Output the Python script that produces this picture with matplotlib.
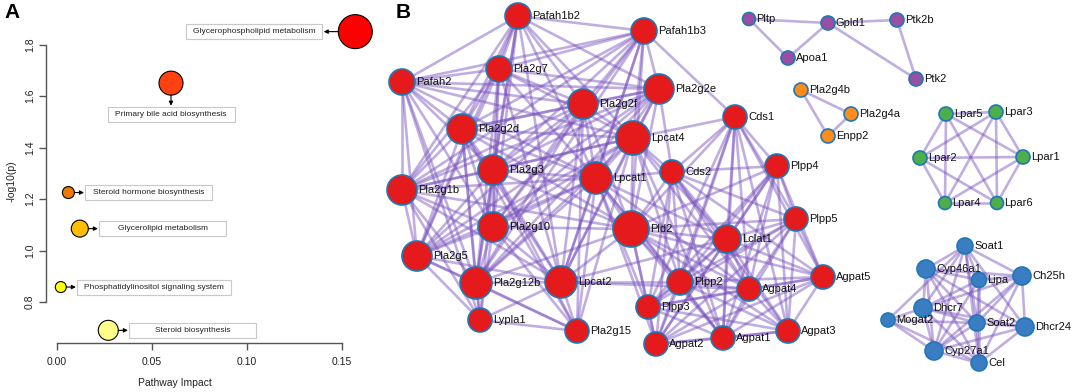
import matplotlib
matplotlib.use("Agg")
import matplotlib.pyplot as plt
from matplotlib.patches import Circle, Rectangle, FancyArrowPatch
from matplotlib.collections import LineCollection
from matplotlib.transforms import IdentityTransform

plt.rcParams["font.family"] = ["Liberation Sans", "DejaVu Sans"]

# ---- Panel A data: pathway analysis ----
pathways = ["Glycerophospholipid metabolism", "Primary bile acid biosynthesis",
            "Steroid hormone biosynthesis", "Glycerolipid metabolism",
            "Phosphatidylinositol signaling system", "Steroid biosynthesis"]
impact = [0.157, 0.060, 0.006, 0.012, 0.002, 0.027]
neg_log_p = [1.85, 1.65, 1.225, 1.085, 0.858, 0.69]
bubble_colors = ["#FF0000", "#FF4210", "#EE7A00", "#FFBE00", "#FFFF10", "#FFFF88"]
bubble_r = [17, 12, 6, 8.5, 5.5, 10]          # radius in px
label_side = ["left", "below", "right", "right", "right", "right"]
x_ticks = [0.00, 0.05, 0.10, 0.15]
y_ticks = [0.8, 1.0, 1.2, 1.4, 1.6, 1.8]

# ---- Panel B data: interaction network ----
groups = {
    "red": ["Pafah1b2", "Pafah1b3", "Pafah2", "Pla2g7", "Pla2g2e", "Pla2g2f", "Pla2g2d",
            "Lpcat4", "Pla2g3", "Lpcat1", "Pla2g1b", "Pla2g10", "Pla2g5", "Pla2g12b",
            "Lpcat2", "Lypla1", "Pla2g15", "Pld2", "Cds1", "Cds2", "Plpp4", "Plpp5",
            "Lclat1", "Plpp2", "Plpp3", "Agpat1", "Agpat2", "Agpat3", "Agpat4", "Agpat5"],
    "purple": ["Pltp", "Gpld1", "Ptk2b", "Apoa1", "Ptk2"],
    "orange": ["Pla2g4b", "Pla2g4a", "Enpp2"],
    "green": ["Lpar5", "Lpar3", "Lpar2", "Lpar1", "Lpar4", "Lpar6"],
    "blue": ["Soat1", "Cyp46a1", "Lipa", "Ch25h", "Dhcr7", "Mogat2", "Soat2",
             "Dhcr24", "Cyp27a1", "Cel"],
}
group_colors = {"red": "#E41A1C", "purple": "#984EA3", "orange": "#FF8C1A",
                "green": "#4DAF4A", "blue": "#3A7DC2"}

links = """
Pafah1b2: Pafah1b3 Pafah2 Pla2g7 Pla2g2e Pla2g2f Pla2g2d Lpcat4 Pla2g3 Lpcat1 Pla2g1b Pla2g10 Pla2g5 Pla2g12b Lpcat2
Pafah1b3: Pafah2 Pla2g7 Pla2g2e Pla2g2f Pla2g2d Lpcat4 Pla2g3 Lpcat1 Pla2g1b Pla2g10 Pla2g12b Lpcat2 Pld2 Cds1
Pafah2: Pla2g7 Pla2g2e Pla2g2f Pla2g2d Lpcat4 Pla2g3 Lpcat1 Pla2g1b Pla2g10 Pla2g5 Pla2g12b Lypla1
Pla2g7: Pla2g2e Pla2g2f Pla2g2d Lpcat4 Pla2g3 Lpcat1 Pla2g1b Pla2g10 Pla2g5 Pla2g12b Lpcat2
Pla2g2e: Pla2g2f Pla2g2d Lpcat4 Pla2g3 Lpcat1 Pla2g1b Pla2g10 Pla2g5 Pla2g12b Lpcat2 Pld2 Cds2
Pla2g2f: Pla2g2d Lpcat4 Pla2g3 Lpcat1 Pla2g1b Pla2g10 Pla2g5 Pla2g12b Lpcat2 Pld2 Pla2g15
Pla2g2d: Lpcat4 Pla2g3 Lpcat1 Pla2g1b Pla2g10 Pla2g5 Pla2g12b Lpcat2 Pld2 Lypla1 Pla2g15
Lpcat4: Pla2g3 Lpcat1 Pla2g1b Pla2g10 Pla2g5 Pla2g12b Lpcat2 Pld2 Cds1 Cds2 Lclat1 Plpp2 Agpat4 Agpat1 Pla2g15
Pla2g3: Lpcat1 Pla2g1b Pla2g10 Pla2g5 Pla2g12b Lpcat2 Pld2 Lypla1 Pla2g15
Lpcat1: Pla2g1b Pla2g10 Pla2g5 Pla2g12b Lpcat2 Pld2 Cds2 Lclat1 Plpp2 Plpp3 Agpat2 Agpat1 Agpat4 Pla2g15
Pla2g1b: Pla2g10 Pla2g5 Pla2g12b Lpcat2 Pld2 Lypla1
Pla2g10: Pla2g5 Pla2g12b Lpcat2 Pld2 Lypla1 Pla2g15
Pla2g5: Pla2g12b Lpcat2 Lypla1 Pla2g15
Pla2g12b: Lpcat2 Lypla1 Pla2g15 Pld2
Lpcat2: Pld2 Pla2g15 Lclat1 Plpp2 Agpat4 Lypla1
Lypla1: Pla2g15
Pld2: Cds1 Cds2 Plpp4 Plpp5 Lclat1 Plpp2 Plpp3 Agpat2 Agpat1 Agpat4 Agpat3 Agpat5
Cds1: Cds2 Plpp4 Plpp5 Lclat1 Plpp2 Plpp3 Agpat2 Agpat1 Agpat4 Agpat3 Agpat5
Cds2: Plpp4 Plpp5 Lclat1 Plpp2 Plpp3 Agpat2 Agpat1 Agpat4 Agpat3 Agpat5
Plpp4: Plpp5 Lclat1 Plpp2 Plpp3 Agpat2 Agpat1 Agpat4 Agpat3 Agpat5
Plpp5: Lclat1 Plpp2 Plpp3 Agpat2 Agpat1 Agpat4 Agpat3 Agpat5
Lclat1: Plpp2 Plpp3 Agpat2 Agpat1 Agpat4 Agpat3 Agpat5
Plpp2: Plpp3 Agpat2 Agpat1 Agpat4 Agpat3 Agpat5
Plpp3: Agpat2 Agpat1 Agpat4 Agpat3 Agpat5
Agpat2: Agpat1 Agpat4 Agpat3 Agpat5
Agpat1: Agpat4 Agpat3 Agpat5
Agpat4: Agpat3 Agpat5
Agpat3: Agpat5
Pltp: Gpld1 Apoa1
Gpld1: Apoa1 Ptk2b Ptk2
Ptk2b: Ptk2
Pla2g4b: Pla2g4a Enpp2
Pla2g4a: Enpp2
Lpar5: Lpar3 Lpar2 Lpar1 Lpar4 Lpar6
Lpar3: Lpar2 Lpar1 Lpar4 Lpar6
Lpar2: Lpar1 Lpar4 Lpar6
Lpar1: Lpar4 Lpar6
Lpar4: Lpar6
Soat1: Cyp46a1 Lipa Ch25h Dhcr7 Soat2 Cyp27a1 Dhcr24 Cel Mogat2
Cyp46a1: Lipa Ch25h Dhcr7 Soat2 Cyp27a1 Dhcr24 Cel
Lipa: Ch25h Dhcr7 Soat2 Cyp27a1 Cel
Ch25h: Dhcr7 Soat2 Dhcr24 Cyp27a1 Cel
Dhcr7: Mogat2 Soat2 Dhcr24 Cyp27a1 Cel
Mogat2: Soat2 Cyp27a1 Cel
Soat2: Dhcr24 Cyp27a1 Cel
Dhcr24: Cyp27a1 Cel
Cyp27a1: Cel
"""

# layout of the network (pixel positions, radius)
layout = {
    "Pafah1b2": (518, 16, 13), "Pafah1b3": (644, 31, 13), "Pafah2": (402, 82, 13),
    "Pla2g7": (499, 69, 13), "Pla2g2e": (659, 89, 15), "Pla2g2f": (583, 104, 15),
    "Pla2g2d": (462, 129, 15), "Lpcat4": (633, 138, 17), "Pla2g3": (493, 170, 15),
    "Lpcat1": (596, 178, 16), "Cds2": (672, 172, 12), "Pla2g1b": (402, 190, 15),
    "Cds1": (735, 117, 12), "Pla2g10": (493, 227, 15), "Pla2g5": (417, 256, 15),
    "Pla2g12b": (476, 283, 16), "Lpcat2": (561, 282, 16), "Lypla1": (480, 320, 12),
    "Pla2g15": (577, 331, 12), "Pld2": (631, 229, 18), "Plpp2": (680, 282, 13),
    "Plpp3": (648, 307, 12), "Agpat2": (656, 344, 12), "Lclat1": (727, 239, 14),
    "Plpp4": (777, 166, 12), "Plpp5": (796, 219, 12), "Agpat5": (823, 277, 12),
    "Agpat4": (749, 289, 12), "Agpat3": (788, 331, 12), "Agpat1": (723, 338, 12),
    "Pltp": (749, 19, 6.5), "Gpld1": (828, 23, 7), "Ptk2b": (897, 20, 7),
    "Apoa1": (788, 58, 7), "Ptk2": (916, 79, 7),
    "Pla2g4b": (801, 90, 7), "Pla2g4a": (851, 114, 7), "Enpp2": (828, 136, 7),
    "Lpar5": (946, 114, 7), "Lpar3": (996, 112, 7), "Lpar2": (920, 158, 7),
    "Lpar1": (1023, 157, 7), "Lpar4": (945, 203, 6.5), "Lpar6": (997, 203, 6.5),
    "Soat1": (965, 246, 8), "Cyp46a1": (926, 269, 9), "Lipa": (979, 280, 7.5),
    "Ch25h": (1022, 276, 9), "Dhcr7": (923, 308, 9), "Mogat2": (888, 320, 7),
    "Soat2": (977, 323, 8), "Dhcr24": (1025, 327, 9), "Cyp27a1": (934, 351, 9),
    "Cel": (979, 363, 8),
}

W, H = 1072, 392
fig = plt.figure(figsize=(W / 100, H / 100), dpi=100)

# ================= Panel B: network =================
axb = fig.add_axes([0, 0, 1, 1])
axb.set_xlim(0, W)
axb.set_ylim(H, 0)
axb.set_axis_off()

segs = []
for line in links.strip().splitlines():
    src, dsts = line.split(":")
    for d in dsts.split():
        x1, y1, _ = layout[src.strip()]
        x2, y2, _ = layout[d]
        segs.append([(x1, y1), (x2, y2)])
axb.add_collection(LineCollection(segs, colors="#7750BC", alpha=0.46,
                                  linewidths=1.9, zorder=1))

for g, names in groups.items():
    for n in names:
        x, y, r = layout[n]
        axb.add_patch(Circle((x, y), r, facecolor=group_colors[g],
                             edgecolor="#1F78B4", lw=1.2, zorder=3))
        axb.text(x + r + 1, y, n, fontsize=8, va="center", ha="left",
                 color="#111111", zorder=4)

fig.text(403 / W, 1 - 12 / H, "B", fontsize=15, fontweight="bold",
         ha="center", va="center")

# ================= Panel A: pathway bubbles =================
# pixel mapping: x px = 57 + 1900*impact, y px = 302 - 257.5*(val-0.8)
left_px, right_px, top_px, bot_px = 46, 365, 19, 343
axa = fig.add_axes([left_px / W, 1 - bot_px / H,
                    (right_px - left_px) / W, (bot_px - top_px) / H])
axa.patch.set_alpha(0)
axa.set_xlim((left_px - 57) / 1900, (right_px - 57) / 1900)
axa.set_ylim(0.8 - (bot_px - 302) / 257.5, 0.8 + (302 - top_px) / 257.5)
for s in ["top", "right"]:
    axa.spines[s].set_visible(False)
axa.spines["left"].set_bounds(0.8, 1.8)
axa.spines["bottom"].set_bounds(0.0, 0.15)
for s in ["left", "bottom"]:
    axa.spines[s].set_color("#555555")
    axa.spines[s].set_linewidth(1.0)
axa.set_xticks(x_ticks)
axa.set_xticklabels([f"{v:.2f}" for v in x_ticks])
axa.set_yticks(y_ticks)
axa.set_yticklabels([f"{v:.1f}" for v in y_ticks], rotation=90, va="center")
axa.tick_params(length=5, width=1.0, color="#555555", labelsize=7.5,
                labelcolor="#222222")
axa.tick_params(axis="y", pad=3)
axa.tick_params(axis="x", pad=5)

sizes = [(2 * r * 0.72) ** 2 for r in bubble_r]
axa.scatter(impact, neg_log_p, s=sizes, c=bubble_colors, edgecolors="black",
            linewidths=0.8, zorder=3, clip_on=False)

fig.text(12 / W, 1 - 181 / H, "-log10(p)", rotation=90, fontsize=7.5,
         ha="center", va="center", color="#222222")
fig.text(175 / W, 1 - 383 / H, "Pathway Impact", fontsize=7.5,
         ha="center", va="center", color="#222222")
fig.text(12 / W, 1 - 12 / H, "A", fontsize=15, fontweight="bold",
         ha="center", va="center")

# label boxes with arrows
renderer = fig.canvas.get_renderer()
ident = IdentityTransform()
for i, name in enumerate(pathways):
    px, py = axa.transData.transform((impact[i], neg_log_p[i]))
    r = bubble_r[i]
    t = fig.text(0, 0, name, fontsize=6, ha="center", va="center",
                 transform=ident, color="#222222", zorder=5)
    tw = t.get_window_extent(renderer).width
    bw, bh = max(127, tw + 14), 15
    if label_side[i] == "right":
        x0 = px + r + 11
        cx, cy = x0 + bw / 2, py
        a0, a1 = (px + r, py), (x0, py)
    elif label_side[i] == "left":
        x1 = px - r - 16
        cx, cy = x1 - bw / 2, py
        a0, a1 = (px - r, py), (x1, py)
    else:
        top = py - r - 12
        cx, cy = px, top - bh / 2
        a0, a1 = (px, py - r), (px, top)
    t.set_position((cx, cy))
    fig.add_artist(Rectangle((cx - bw / 2, cy - bh / 2), bw, bh, transform=ident,
                             facecolor="white", edgecolor="#C8C8C8", lw=0.8, zorder=4))
    fig.add_artist(FancyArrowPatch(a0, a1, transform=ident, arrowstyle="-|>",
                                   mutation_scale=6, lw=0.8, color="black",
                                   shrinkA=0, shrinkB=1, zorder=4))

fig.savefig("out.png", dpi=100, facecolor="white")
